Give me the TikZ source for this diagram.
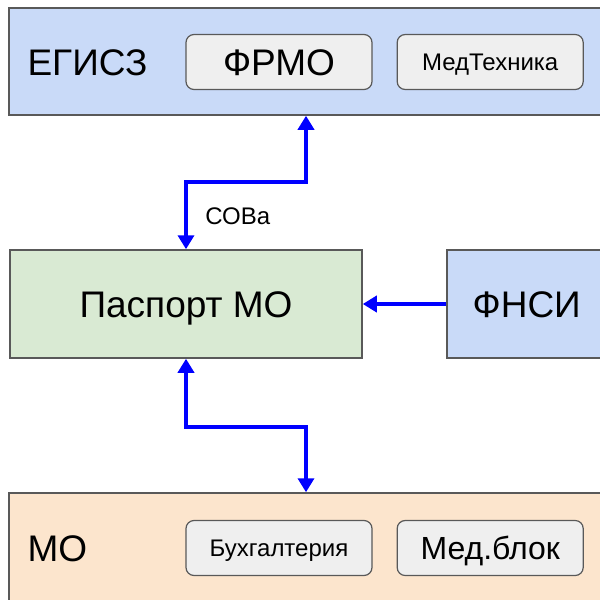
\documentclass[tikz,border=0pt]{standalone}
\usepackage{fontspec}
\setmainfont{Liberation Sans}
\usetikzlibrary{shapes.geometric, arrows.meta, positioning}
\definecolor{sysblue}{HTML}{C9DAF8}
\definecolor{paspgreen}{HTML}{D9EAD3}
\definecolor{moorange}{HTML}{FCE5CD}
\definecolor{subgray}{HTML}{EFEFEF}
\definecolor{framegray}{HTML}{595959}
\definecolor{linkblue}{HTML}{0000FF}
\newcommand{\fsbig}{\fontsize{37}{41}\selectfont}
\newcommand{\fsmid}{\fontsize{32}{36}\selectfont}
\newcommand{\fssmall}{\fontsize{24}{28}\selectfont}
\tikzstyle{txtbig} = [font=\fsbig, text height=26.5pt, text depth=0pt]
\tikzstyle{txtmid} = [font=\fsmid, text height=23pt, text depth=0pt]
\tikzstyle{txtsmall} = [font=\fssmall, text height=17.2pt, text depth=0pt]
\tikzstyle{styleouter} = [rectangle, draw=framegray, line width=1.5pt, inner sep=0pt]
\tikzstyle{stylesub} = [rectangle, rounded corners=8pt, minimum width=186pt, minimum height=55pt, text centered, draw=framegray, line width=1.2pt, fill=subgray]
\tikzstyle{stylelink} = [linkblue, line width=4pt, >={Triangle[length=14pt,width=16pt]}]

\begin{document}
\begin{tikzpicture}[x=1pt, y=-1pt, node distance=24pt]
\useasboundingbox (0,0) rectangle (600,600);
\clip (0,0) rectangle (600,600);

\node (egisz) [styleouter, fill=sysblue, minimum width=594pt, minimum height=107pt] at (306,61.5) {};
\node (egisztxt) [anchor=west, txtbig] at (24,62) {ЕГИСЗ};
\node (frmo) [stylesub, txtbig] at (279,62) {ФРМО};
\node (medteh) [stylesub, txtsmall, right=of frmo] {МедТехника};

\node (pasp) [styleouter, fill=paspgreen, minimum width=352pt, minimum height=108pt, txtbig] at (186,304) {Паспорт МО};
\node (fnsi) [styleouter, fill=sysblue, minimum width=160pt, minimum height=108pt, anchor=west, txtbig] at (446,304) {ФНСИ};

\node (mo) [styleouter, fill=moorange, minimum width=594pt, minimum height=112pt] at (306,549) {};
\node (motxt) [anchor=west, txtbig] at (24,548) {МО};
\node (buh) [stylesub, txtsmall] at (279,548) {Бухгалтерия};
\node (medblok) [stylesub, txtmid, right=of buh] {Мед.блок};

\draw[stylelink, <->] (pasp.north) -- node[right=14pt, black, txtsmall] {СОВа} ++(0,-67) -| (egisz.south);
\draw[stylelink, ->] (fnsi.west) -- (pasp.east);
\draw[stylelink, <->] (pasp.south) -- ++(0,68) -| (mo.north);

\end{tikzpicture}
\end{document}
